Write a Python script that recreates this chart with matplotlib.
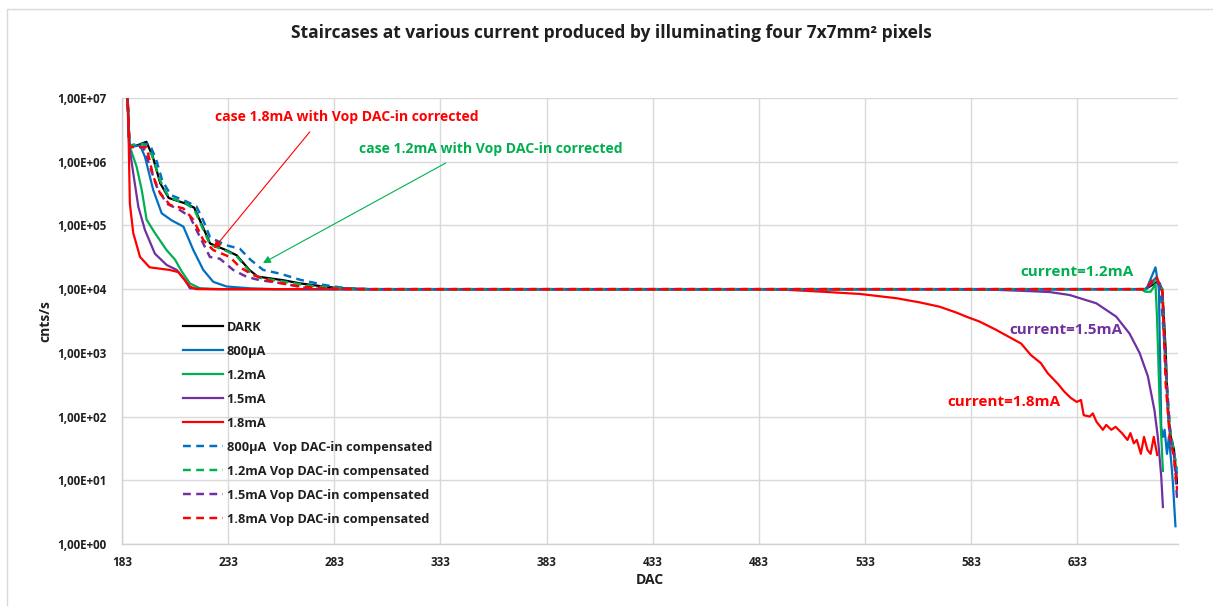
import matplotlib
matplotlib.use("Agg")
import matplotlib.pyplot as plt
from matplotlib.patches import Rectangle
from matplotlib.ticker import FixedLocator, FixedFormatter, NullLocator

# ---------------- data ----------------
dark_x = [185.5, 186.5, 190, 194.5, 197.5, 201, 205, 213, 217, 221, 224.5, 232, 237, 243, 247, 259, 267, 278,
          286, 300, 400, 500, 600, 665, 670.7, 673, 674.6, 675.4, 676.6, 678.5, 680]
dark_y = [1.3e7, 1.7e6, 1.8e6, 2.05e6, 1.2e6, 4.6e5, 2.7e5, 2.2e5, 1.9e5, 9.6e4, 5.2e4, 4.1e4, 3.4e4, 2.0e4,
          1.57e4, 1.38e4, 1.23e4, 1.1e4, 1.03e4, 1e4, 1e4, 1e4, 1e4, 1e4, 1.3e4, 1e4, 1.1e3, 180, 55, 30, 9]

i800_x = [185.5, 186.5, 191.5, 193.8, 197.7, 201.7, 206.4, 211.9, 216.6, 221.3, 226, 232.3, 243.3, 255, 400,
          600, 665.5, 669.8, 671.4, 672.5, 673.3, 674.1, 675.2, 676.1, 677.3, 678.0, 679.2]
i800_y = [1.3e7, 1.7e6, 1.8e6, 1.2e6, 3.6e5, 1.55e5, 1.2e5, 9.6e4, 4.1e4, 2e4, 1.3e4, 1.1e4, 1.03e4, 1e4, 1e4,
          1e4, 1e4, 2.2e4, 1e4, 69, 48, 62, 26, 48, 18, 9, 1.9]

i12_x = [185.5, 186.5, 189.9, 192.3, 194.6, 198.5, 204, 208, 211.1, 215, 219.7, 230, 400, 600, 663, 665,
         667.5, 669.8, 670.5, 671.7, 673.3]
i12_y = [1.3e7, 1.8e6, 8.3e5, 3.6e5, 1.23e5, 7.6e4, 4.1e4, 2.9e4, 1.9e4, 1.23e4, 1.03e4, 1e4, 1e4, 1e4, 1e4,
         9.1e3, 9.1e3, 1.2e4, 3.7e3, 180, 14]

i15_x = [185.5, 186.5, 188.3, 190.7, 193.8, 198.5, 204, 208.8, 212.7, 215, 225, 400, 566, 593, 610.5, 620,
         629.3, 641.9, 651.3, 657.6, 662.3, 666.2, 669.3, 670.9, 672.5, 673.3]
i15_y = [1.3e7, 1.7e6, 6.6e5, 1.96e5, 8.5e4, 3.6e4, 2.4e4, 2e4, 1.38e4, 1.03e4, 1e4, 1e4, 1e4, 9.8e3, 9.3e3,
         9.0e3, 8.1e3, 6e3, 3.7e3, 2e3, 1e3, 430, 126, 48, 11.5, 3.8]

i18_x = [185.5, 186.2, 186.7, 188.3, 191.5, 196, 205.5, 209.5, 215, 218, 300, 400, 490, 513, 530.6, 547.8,
         558.7, 568.1, 575.9, 580.7, 586.9, 594.7, 600.5, 606.5, 611, 615.8, 619, 623.7, 626.9, 630, 632.7,
         634.7, 636, 638.8, 640.3, 642, 645, 646.6, 649, 651, 654, 656.6, 658, 659.6, 661, 662.9, 664.4, 666,
         667.5, 669, 670.6]
i18_y = [1.3e7, 1.7e6, 2.2e5, 7.6e4, 3.2e4, 2.2e4, 2e4, 1.85e4, 1.1e4, 1e4, 1e4, 1e4, 1e4, 9.1e3, 8.4e3, 7.2e3,
         6.2e3, 5.3e3, 4.3e3, 3.7e3, 3.1e3, 2.3e3, 1.8e3, 1.4e3, 930, 690, 480, 330, 245, 195, 170,
         182, 105, 100, 112, 83, 62, 74, 62, 69, 55, 43, 55, 38, 43, 26, 48, 30,
         26, 48, 25]

c800_x = [185.5, 186.5, 191, 196, 199, 202, 206, 213, 218, 221.5, 224.5, 232, 238.5, 243.5, 249.5, 257.5, 267,
          279, 289, 300, 400, 600, 665, 670, 672, 674.5, 676, 678, 680]
c800_y = [1.3e7, 1.8e6, 1.9e6, 1.9e6, 1.1e6, 5e5, 3e5, 2.4e5, 2e5, 1.15e5, 6.5e4, 4.9e4, 4.3e4, 2.9e4, 2e4,
          1.75e4, 1.4e4, 1.15e4, 1.03e4, 1e4, 1e4, 1e4, 1e4, 1.5e4, 1.2e4, 800, 80, 35, 12]

c12_x = [185.5, 186.5, 193, 197, 201, 205, 213, 217, 221, 224.5, 232, 237, 243, 248, 260, 270, 282, 292, 400,
         600, 665, 670, 673, 675, 677, 680]
c12_y = [1.3e7, 1.8e6, 1.9e6, 1.3e6, 5e5, 2.8e5, 2.2e5, 1.8e5, 9e4, 5e4, 4e4, 3.3e4, 1.9e4, 1.5e4, 1.3e4,
         1.15e4, 1.05e4, 1e4, 1e4, 1e4, 1e4, 1.4e4, 1e4, 300, 50, 15]

c15_x = [185.5, 186.5, 193, 196.2, 199.3, 204, 210.3, 215, 219.7, 224.4, 229.1, 235.4, 241.7, 248, 259, 270,
         285, 400, 600, 665, 670, 673, 675, 677, 678.5, 680]
c15_y = [1.3e7, 1.7e6, 1.7e6, 8.3e5, 4.1e5, 2.2e5, 1.74e5, 1.37e5, 6.6e4, 3.2e4, 3e4, 2e4, 1.56e4, 1.38e4,
         1.23e4, 1.03e4, 1e4, 1e4, 1e4, 1e4, 1.4e4, 1e4, 400, 40, 25, 5]

c18_x = [185.5, 186.5, 194.6, 197.7, 200.9, 205.6, 211.9, 216.6, 221.3, 226, 233.8, 238.6, 244.8, 254.2, 266.8,
         280, 300, 400, 600, 665, 670, 671.5, 673, 674.6, 676.5, 678.5, 680]
c18_y = [1.3e7, 1.7e6, 1.7e6, 5.9e5, 3.2e5, 2.1e5, 1.85e5, 1.23e5, 5.9e4, 4.1e4, 3.2e4, 2.2e4, 1.66e4, 1.3e4,
         1.1e4, 1.02e4, 1e4, 1e4, 1e4, 1e4, 1.6e4, 1.25e4, 9e3, 330, 48, 23, 7]

series_labels = ["DARK", "800\u00b5A", "1.2mA", "1.5mA", "1.8mA",
                 "800\u00b5A  Vop DAC-in compensated", "1.2mA Vop DAC-in compensated",
                 "1.5mA Vop DAC-in compensated", "1.8mA Vop DAC-in compensated"]

x_ticks = [183, 233, 283, 333, 383, 433, 483, 533, 583, 633]
y_ticks = [1e0, 1e1, 1e2, 1e3, 1e4, 1e5, 1e6, 1e7]
y_tick_labels = ["1,00E+00", "1,00E+01", "1,00E+02", "1,00E+03", "1,00E+04", "1,00E+05", "1,00E+06", "1,00E+07"]

title = "Staircases at various current produced by illuminating four 7x7mm\u00b2 pixels"

# ---------------- styling ----------------
FONT = "Open Sans"
plt.rcParams["font.family"] = [FONT, "DejaVu Sans"]
BLUE, GREEN, PURPLE, RED, BLACK = "#0070C0", "#00B050", "#7030A0", "#FF0000", "#000000"
TXT = "#1f1f1f"

W, H = 1213, 606
fig = plt.figure(figsize=(W / 100, H / 100), dpi=100)
fig.patch.set_facecolor("white")
fig.patches.append(Rectangle((7 / W, -0.2), 1.2, 1.2 - 9 / H, transform=fig.transFigure,
                             fill=False, ec="#d9d9d9", lw=1.0))
renderer = fig.canvas.get_renderer()


def fit(t, target_px):
    w = t.get_window_extent(renderer).width
    t.set_fontsize(t.get_fontsize() * target_px / w)


def size_for(text, target_px, base=10.0):
    t = fig.text(0, 0, text, fontsize=base, fontweight="bold")
    w = t.get_window_extent(renderer).width
    t.remove()
    return base * target_px / w


def ylog(py):
    # vertical pixel position in the reference -> value on the log axis (for text placement only)
    return 10 ** (7 - (py - 98) / 63.7)


ax = fig.add_axes([122 / W, 1 - 544 / H, (1178 - 122) / W, (544 - 98) / H])
ax.set_yscale("log")
ax.set_xlim(183, 680.4)
ax.set_ylim(1, 1e7)

LW = 1.6
DASH = (3.2, 2.2)
solid = [(dark_x, dark_y, BLACK), (i800_x, i800_y, BLUE), (i12_x, i12_y, GREEN),
         (i15_x, i15_y, PURPLE), (i18_x, i18_y, RED)]
dashed = [(c800_x, c800_y, BLUE), (c12_x, c12_y, GREEN), (c15_x, c15_y, PURPLE), (c18_x, c18_y, RED)]
handles = []
for (xs, ys, c) in solid:
    h, = ax.plot(xs, ys, color=c, lw=LW, solid_joinstyle="round")
    handles.append(h)
for (xs, ys, c) in dashed:
    h, = ax.plot(xs, ys, color=c, lw=LW * 1.1, dashes=DASH)
    handles.append(h)

tick_fs = size_for("1,00E+07", 50)
ax.xaxis.set_major_locator(FixedLocator(x_ticks))
ax.xaxis.set_minor_locator(NullLocator())
ax.yaxis.set_major_locator(FixedLocator(y_ticks))
ax.yaxis.set_major_formatter(FixedFormatter(y_tick_labels))
ax.yaxis.set_minor_locator(NullLocator())
ax.grid(True, which="major", color="#d9d9d9", lw=1.0)
ax.set_axisbelow(True)
for s in ["top", "right"]:
    ax.spines[s].set_visible(False)
for s in ["left", "bottom"]:
    ax.spines[s].set_color("#d0d0d0")
    ax.spines[s].set_linewidth(1.0)
ax.tick_params(axis="both", length=0, labelsize=tick_fs, colors=TXT)
ax.tick_params(axis="y", pad=11)
ax.tick_params(axis="x", pad=9)
for lab in ax.get_xticklabels() + ax.get_yticklabels():
    lab.set_fontweight("bold")

lab_fs = size_for("DAC", 28)
ax.set_ylabel("cnts/s", fontsize=lab_fs, fontweight="bold", color=TXT, va="center")
ax.yaxis.set_label_coords(-0.073, 0.5)
ax.set_xlabel("DAC", fontsize=lab_fs, fontweight="bold", color=TXT, va="center")
ax.xaxis.set_label_coords(0.5, -0.081)

tt = fig.text(611 / W, 1 - 33 / H, title, ha="center", va="center", fontsize=12, fontweight="bold", color=TXT)
fit(tt, 640)

leg_fs = size_for(series_labels[5], 206)
leg = ax.legend(handles, series_labels, loc="upper left", bbox_to_anchor=(0.0575, 0.501),
                frameon=False, prop={"size": leg_fs, "weight": "bold"}, handlelength=40 / (leg_fs * 100 / 72),
                handletextpad=0.3, labelspacing=0.86, borderpad=0, borderaxespad=0)
for t in leg.get_texts():
    t.set_color(TXT)

# annotations
t1 = ax.text(226.6, ylog(117.3), "case 1.8mA with Vop DAC-in corrected",
             color=RED, fontsize=10, fontweight="bold", ha="left", va="center")
fit(t1, 264)
ax.annotate("", xy=(226.3, 10 ** 4.64), xytext=(271.5, 10 ** 6.47),
            arrowprops=dict(arrowstyle="-|>", color=RED, lw=0.8, mutation_scale=11, shrinkA=0, shrinkB=0))
t2 = ax.text(294.6, ylog(149.3), "case 1.2mA with Vop DAC-in corrected", color=GREEN,
             fontsize=10, fontweight="bold", ha="left", va="center")
fit(t2, 264)
ax.annotate("", xy=(249.4, 10 ** 4.41), xytext=(335.5, 10 ** 5.98),
            arrowprops=dict(arrowstyle="-|>", color=GREEN, lw=0.8, mutation_scale=11, shrinkA=0, shrinkB=0))

t3 = ax.text(183 + (1020.7 - 122) / 2.124, ylog(271.7), "current=1.2mA", color=GREEN, fontsize=11,
             fontweight="bold", ha="left", va="center")
fit(t3, 113)
t4 = ax.text(183 + (1010 - 122) / 2.124, ylog(330), "current=1.5mA", color=PURPLE, fontsize=11,
             fontweight="bold", ha="left", va="center")
fit(t4, 113)
t5 = ax.text(183 + (947.3 - 122) / 2.124, ylog(401.7), "current=1.8mA", color=RED, fontsize=11,
             fontweight="bold", ha="left", va="center")
fit(t5, 113)

fig.savefig("out.png", dpi=100)
